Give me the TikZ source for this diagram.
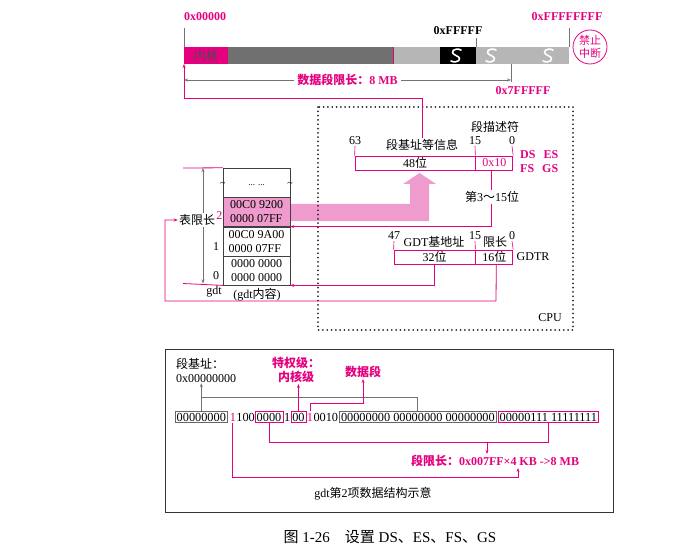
\documentclass[tikz,border=0pt]{standalone}
\usepackage{fontspec}
\setmainfont{Liberation Serif}
\newfontfamily\cjk{Noto Sans CJK SC}
\usetikzlibrary{arrows.meta, positioning, calc}
\definecolor{mag}{RGB}{228,0,127}
\definecolor{pinkband}{RGB}{240,155,205}
\definecolor{darkbar}{RGB}{112,112,112}
\definecolor{lightbar}{RGB}{182,182,182}
\newcommand{\zh}[1]{{\cjk #1}}

\begin{document}
\begin{tikzpicture}[>={Stealth[length=4pt, width=3pt]}, x=1pt, y=-1pt,
    font=\fontsize{12}{14}\selectfont,
    mline/.style={mag, line width=0.8pt},
    gline/.style={black!55, line width=0.6pt},
    mlbl/.style={inner sep=1pt, text=mag, font=\fontsize{12}{14}\selectfont\bfseries},
    regbox/.style={draw=mag, line width=0.8pt, minimum height=14pt, inner sep=0pt},
    gdtrow/.style={draw=black!75, minimum width=67pt, minimum height=29pt,
                   inner sep=0pt, align=left},
    bitbox/.style={draw=#1, inner sep=1.5pt, font=\fontsize{12.3}{14}\selectfont},
    bitplain/.style={inner xsep=0pt, inner ysep=1.5pt, font=\fontsize{12.3}{14}\selectfont}]
  \useasboundingbox (0,0) rectangle (685,556);

  % Memory bar
  \fill[mag] (184,47) rectangle (228,64);
  \fill[darkbar] (228,47) rectangle (393,64);
  \fill[lightbar] (393,47) rectangle (440,64);
  \fill[black] (440,47) rectangle (476,64);
  \fill[lightbar] (476,47) rectangle (569,64);
  \draw[mag, line width=0.8pt] (393,47) -- (393,64);
  \foreach \bx in {456,491,548}
    \draw[white, line width=1.6pt, line cap=round]
      (\bx+5,50) .. controls (\bx-1,47) and (\bx-8,52) .. (\bx,55.5)
      .. controls (\bx+8,59) and (\bx+1,64) .. (\bx-5,61);
  \node[text=black!70] (kernel) at (206,56) {\zh{内核}};
  \coordinate (bar0) at (184,64);

  % Addresses
  \node[mlbl] (addr0) at (205,17) {0x00000};
  \node[inner sep=1pt, font=\fontsize{12}{14}\selectfont\bfseries] (addr1m) at (458,31) {0xFFFFF};
  \node[mlbl] (addr4g) at (567,17) {0xFFFFFFFF};
  \node[mlbl] (addr8m) at (523,91) {0x7FFFFF};
  \draw[gline] (184,28) -- (184,47);
  \draw[gline] (476,38) -- (476,47);
  \draw[gline] (569,28) -- (569,47);
  \draw[gline] (511,64) -- (511,82);
  \node[draw=mag, line width=0.8pt, circle, minimum size=34pt, inner sep=0pt, text=mag,
        align=center, font=\fontsize{11}{12.5}\selectfont\cjk] (noint) at (590,47) {禁止\\中断};

  % Data segment limit
  \draw[gline, <->] (184,80) -- (511,80)
    node[midway, fill=white, inner sep=3pt, text=mag, font=\fontsize{12}{14}\selectfont\bfseries]
    (dslim) {\zh{数据段限长：}8 MB};

  % Pink band from gdt entry 2
  \fill[pinkband] (290,204) -- (410,204) -- (410,184) -- (403,184) -- (419.5,173)
    -- (436,184) -- (429,184) -- (429,221) -- (290,221) -- cycle;

  % CPU
  \draw[black!85, line width=1.8pt, line cap=round, dash pattern=on 0.1pt off 4.2pt]
    (318,107) rectangle (573,330);
  \node (cpu) at (550,318) {CPU};

  % Segment register
  \node[regbox, minimum width=120pt] (base48) at (415,163) {48\zh{位}};
  \node[regbox, minimum width=37pt, right=0pt of base48, text=mag] (sel) {0x10};
  \node[inner sep=1pt] (d63) at (355,141) {63};
  \node[inner sep=1pt] (d15) at (475,141) {15};
  \node[inner sep=1pt] (d0) at (512,141) {0};
  \draw[mag, line width=0.6pt] (d63.south) -- (base48.north west);
  \draw[mag, line width=0.6pt] (d15.south) -- (base48.north east);
  \draw[mag, line width=0.6pt] (d0.south) -- (sel.north east);
  \node[inner sep=1pt] (baseinfo) at (422,145) {\zh{段基址等信息}};
  \node[inner sep=1pt] (descr) at (495,127) {\zh{段描述符}};
  \node[mlbl, align=left, anchor=west] (segregs) at (519,162) {DS\ \ \,ES\\FS\ \ \,GS};

  % GDTR
  \node[regbox, minimum width=81pt] (base32) at (434.5,257) {32\zh{位}};
  \node[regbox, minimum width=37pt, right=0pt of base32] (lim16) {16\zh{位}};
  \node[inner sep=1pt] (g47) at (394,236) {47};
  \node[inner sep=1pt] (g15) at (475,236) {15};
  \node[inner sep=1pt] (g0) at (512,236) {0};
  \draw[mag, line width=0.6pt] (g47.south) -- (base32.north west);
  \draw[mag, line width=0.6pt] (g15.south) -- (base32.north east);
  \draw[mag, line width=0.6pt] (g0.south) -- (lim16.north east);
  \node[inner sep=1pt] (gdtbase) at (434,242) {GDT\zh{基地址}};
  \node[inner sep=1pt] (gdtlim) at (495,242) {\zh{限长}};
  \node (gdtr) at (533,257) {GDTR};

  % gdt table
  \node[gdtrow] (gtop) at (256.5,182.5) {};
  \node[gdtrow, fill=pinkband, below=0pt of gtop] (e2) {00C0 9200\\0000 07FF};
  \node[gdtrow, below=0pt of e2] (e1) {00C0 9A00\\0000 07FF};
  \node[gdtrow, below=0pt of e1] (e0) {0000 0000\\0000 0000};
  \node[inner sep=0pt, yshift=-3pt] (dots) at (gtop) {\fontsize{9}{10}\selectfont ... ...};
  \node[inner sep=0pt, font=\fontsize{10}{10}\selectfont] (tl) at ([yshift=-2pt]gtop.west) {\textasciitilde};
  \node[inner sep=0pt, font=\fontsize{10}{10}\selectfont] (tr) at ([yshift=-2pt]gtop.east) {\textasciitilde};
  \node[inner sep=1pt] (i1) at (216,247) {1};
  \node[inner sep=1pt] (i0) at (216,276) {0};
  \node[inner sep=1pt] (gdtname) at (214,292) {gdt};
  \node[inner sep=1pt] (gdtcont) at (257,295) {(gdt\zh{内容})};

  % table limit
  \draw[mline] (183,168) -- (gtop.north west);
  \draw[mline] (183,283.5) -- (e0.south west);
  \draw[gline, <->] (203,168) -- (203,283.5);
  \node[fill=white, inner sep=1pt] (tablim) at (197,220) {\zh{表限长}};
  \node[inner sep=0pt, text=mag, anchor=south west] (i2) at (tablim.east) {2};

  % connectors
  \draw[mline, <-] (bar0) -- (184,98) -| (baseinfo.north);
  \draw[mline, ->] ([xshift=-3pt]sel.south) |- (e2.south east);
  \node[fill=white, inner sep=1pt] (bits) at (492,197) {\zh{第}3\zh{～}15\zh{位}};
  \draw[mline, ->] (base32.south) |- (e0.south east);
  \draw[mline, ->] ([xshift=2pt]lim16.south) -- (496,301) -| (165,220) -- (tablim.west);

  % gdt entry 2 in bits
  \draw[black!80, line width=0.8pt] (165,349) rectangle (613,512);
  \node[inner sep=0pt, anchor=west] (baselbl) at (176,364) {\zh{段基址：}};
  \node[inner sep=0pt, anchor=west] (basehex) at (176,379) {0x00000000};
  \node[bitbox=black!60, anchor=west] (b1) at (175,417) {00000000};
  \node[bitplain, text=mag, right=2pt of b1] (n1) {1};
  \node[bitplain, right=0pt of n1] (n2) {100};
  \node[bitbox=mag, right=0pt of n2] (b2) {0000};
  \node[bitplain, right=1pt of b2] (n3) {1};
  \node[bitbox=mag, right=0pt of n3] (b3) {00};
  \node[bitplain, text=mag, right=0.5pt of b3] (n4) {1};
  \node[bitplain, right=0pt of n4] (n5) {0010};
  \node[bitbox=black!60, right=1pt of n5] (b4) {00000000 00000000 00000000};
  \node[bitbox=mag, right=1.5pt of b4] (b5) {00000111 11111111};

  \node[mlbl, align=center] (priv) at (296,370) {\zh{特权级：}\\\zh{内核级}};
  \node[mlbl] (dataseg) at (363,372) {\zh{数据段}};
  \node[mlbl] (seglimit) at (495,461) {\zh{段限长：}0x007FF\texttimes4 KB -{}>8 MB};
  \node (title) at (373,494) {gdt\zh{第}2\zh{项数据结构示意}};

  \coordinate (brk) at (0,397);
  \coordinate (lima) at (0,442);
  \coordinate (limb) at (487,442);
  \coordinate (gran) at (518,477);
  \draw[gline, line width=0.8pt, ->] (b1.north) -- (b1.north |- basehex.south);
  \draw[gline, line width=0.8pt] (b1.north |- brk) -| (b4.north);
  \draw[mline, ->] (b3.north) -- (b3.north |- priv.south);
  \draw[mline, ->] (n4.north) -- ++(0,-8) -| (dataseg.south);
  \draw[mline] (b2.south) |- (b5.south |- lima) -- (b5.south);
  \draw[mline, ->] (limb) -- (limb |- seglimit.north);
  \draw[mline, ->] (n1.south) |- (gran) -- (gran |- seglimit.south);

  % Caption
  \node[font=\fontsize{15}{18}\selectfont] (caption) at (390,537)
    {\zh{图} 1-26\quad \zh{设置} DS\zh{、}ES\zh{、}FS\zh{、}GS};
\end{tikzpicture}
\end{document}
